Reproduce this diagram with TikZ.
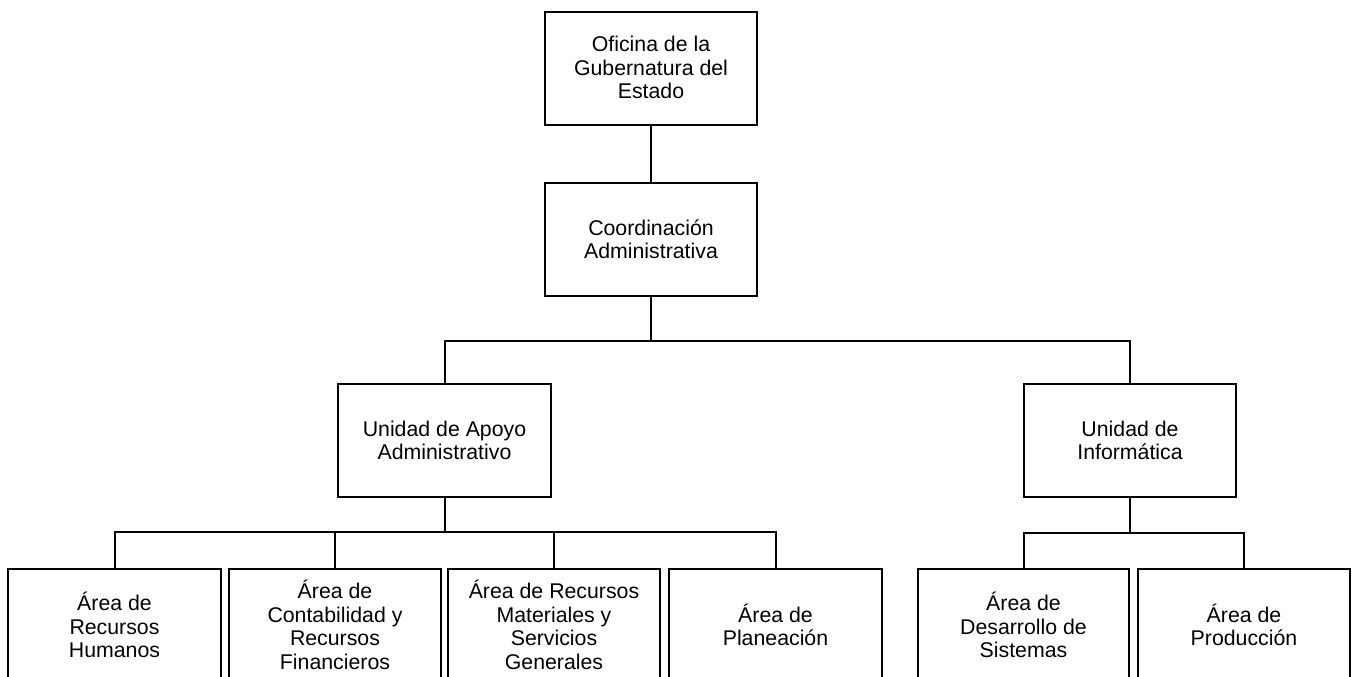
\documentclass[tikz,border=0pt]{standalone}
\usepackage{fontspec}
\setmainfont{Liberation Sans}
\begin{document}
\begin{tikzpicture}[x=1pt,y=-1pt,
  box/.style={draw=black, line width=2pt, rectangle, inner sep=0pt, minimum width=212pt, minimum height=113pt, fill=white},
  txt/.style={align=center, inner sep=0pt, font=\fontsize{21.3}{23.5}\selectfont},
  conn/.style={draw=black, line width=2pt}]
\useasboundingbox (0,0) rectangle (1352,677);
\clip (0,0) rectangle (1352,677);
% boxes
\node[box] (top) at (651,68.5) {};
\node[box] (coord) at (651,239.5) {};
\node[box, minimum width=213pt] (ua) at (444.5,440.5) {};
\node[box] (ui) at (1130,440.5) {};
\node[box, minimum width=213pt] (b1) at (114.5,625) {};
\node[box] (b2) at (335,625) {};
\node[box] (b3) at (554,625) {};
\node[box, minimum width=213pt] (b4) at (775.5,625) {};
\node[box, minimum width=211pt] (b5) at (1023.5,625) {};
\node[box] (b6) at (1244,625) {};
% texts
\node[txt] (top-t) at ([yshift=1pt]top.center) {Oficina de la\\Gubernatura del\\Estado};
\node[txt] (coord-t) at (coord.center) {Coordinación\\Administrativa};
\node[txt] (ua-t) at (ua.center) {Unidad de Apoyo\\Administrativo};
\node[txt] (ui-t) at (ui.center) {Unidad de\\Informática};
\node[txt] (b1-t) at (b1.center) {Área de\\Recursos\\Humanos};
\node[txt] (b2-t) at (b2.center) {Área de\\Contabilidad y\\Recursos\\Financieros};
\node[txt] (b3-t) at (b3.center) {Área de Recursos\\Materiales y\\Servicios\\Generales};
\node[txt] (b4-t) at (b4.center) {Área de\\Planeación};
\node[txt] (b5-t) at (b5.center) {Área de\\Desarrollo de\\Sistemas};
\node[txt] (b6-t) at (b6.center) {Área de\\Producción};
% junctions
\coordinate (j1) at (651,340.5);
\coordinate (j2) at (444.5,532);
\coordinate (j3) at (1130,533);
% connectors
\draw[conn] (top.south) -- (coord.north);
\draw[conn] (coord.south) -- (j1);
\draw[conn] (j1) -| (ua.north);
\draw[conn] (j1) -| (ui.north);
\draw[conn] (ua.south) -- (j2);
\draw[conn] (j2) -| (b1.north);
\draw[conn] (j2) -| (b2.north);
\draw[conn] (j2) -| (b3.north);
\draw[conn] (j2) -| (b4.north);
\draw[conn] (ui.south) -- (j3);
\draw[conn] (j3) -| (b5.north);
\draw[conn] (j3) -| (b6.north);
\end{tikzpicture}
\end{document}
